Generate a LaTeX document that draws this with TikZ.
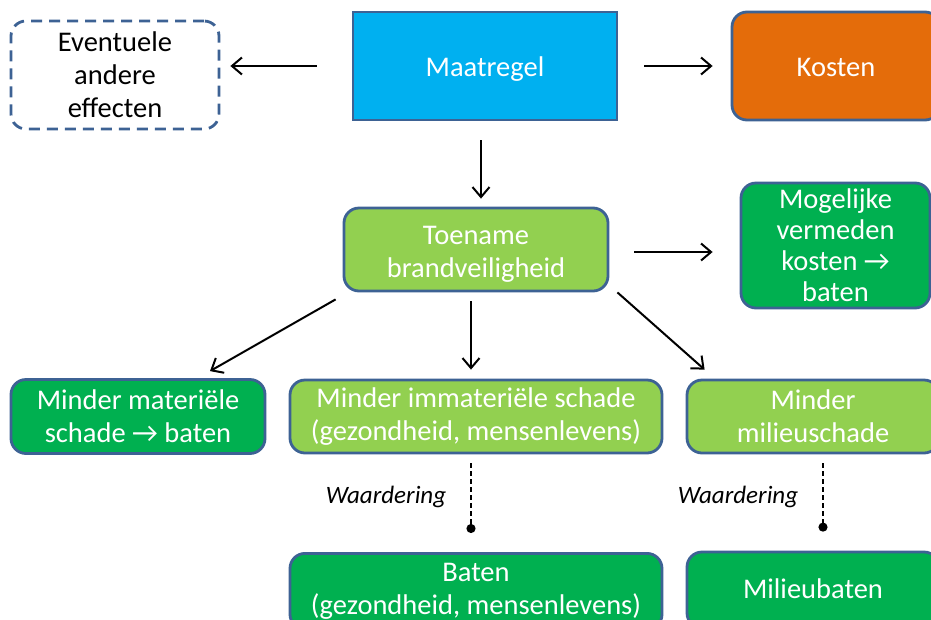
\documentclass[tikz,border=0pt]{standalone}
\usepackage{fontspec}
\setmainfont{Carlito}
\usetikzlibrary{arrows.meta}
\definecolor{bord}{HTML}{3D6294}
\definecolor{cblue}{HTML}{00B0F0}
\definecolor{corange}{HTML}{E46C0A}
\definecolor{clgreen}{HTML}{92D050}
\definecolor{cgreen}{HTML}{00B050}
\newcommand{\lowtext}[2]{\raisebox{-#1pt}[0pt][0pt]{#2}}
\tikzset{
  box/.style={draw=bord, line width=2.8pt, text=white, align=center, inner sep=0pt,
    font=\fontsize{28.5}{33}\selectfont},
  rbox/.style={box, rounded corners=15pt},
  conn/.style={line width=2pt, -{Straight Barb[length=10pt,width=17pt,line width=2pt]}},
  dotconn/.style={line width=2pt, dash pattern=on 5pt off 3pt, -{Circle[length=9pt]}},
  lbl/.style={font=\fontsize{25}{30}\selectfont\itshape, inner sep=0pt}
}
\begin{document}
\begin{tikzpicture}[x=1pt,y=-1pt]
\useasboundingbox (0,0) rectangle (931,619);
\clip (0,0) rectangle (931,619);
\fill[white] (0,0) rectangle (931,619);

\node[rbox, dash pattern=on 11pt off 7pt, text=black, fill=white, minimum width=208pt, minimum height=108pt] (eff) at (115,75) {Eventuele\\andere\\effecten};
\node[box, fill=cblue, minimum width=264pt, minimum height=108pt] (maat) at (485,66) {\lowtext{10}{Maatregel}};
\node[rbox, fill=corange, minimum width=208pt, minimum height=108pt] (kost) at (836,66) {\lowtext{10}{Kosten}};
\node[rbox, fill=clgreen, minimum width=264pt, minimum height=83pt] (toen) at (476,249.5) {\rule{0pt}{27pt}Toename\\brandveiligheid};
\node[rbox, fill=cgreen, minimum width=189pt, minimum height=125pt, font=\fontsize{28.5}{31}\selectfont] (mog) at (835.5,245.5) {Mogelijke\\vermeden\\kosten \symbol{"2192}\\baten};
\node[rbox, fill=cgreen, minimum width=254pt, minimum height=74pt] (mat) at (138,416.5) {Minder materiële\\schade \symbol{"2192} baten};
\node[rbox, fill=clgreen, minimum width=372pt, minimum height=73pt] (imm) at (476,416.5) {Minder immateriële schade\\(gezondheid, mensenlevens)};
\node[rbox, fill=clgreen, minimum width=252pt, minimum height=73pt] (mil) at (813,416.5) {Minder\\milieuschade};
\node[rbox, fill=cgreen, minimum width=372pt, minimum height=76pt, anchor=north] (bat) at (476,552) {Baten\\(gezondheid, mensenlevens)};
\node[rbox, fill=cgreen, minimum width=252pt, minimum height=76pt] (milb) at (813,590) {\lowtext{8}{Milieubaten}};

\node[lbl] (w1) at (386,497) {Waardering};
\node[lbl] (w2) at (738,497) {Waardering};

\draw[conn, shorten <=35pt, shorten >=10pt] (maat.west) -- (maat.west -| eff.east);
\draw[conn, shorten <=26pt, shorten >=18pt] (maat.east) -- (maat.east -| kost.west);
\draw[conn] ([shift={(-4,19)}]maat.south) -- ([shift={(5,-8)}]toen.north);
\draw[conn, shorten <=25pt, shorten >=27pt] ([yshift=-2.5]toen.east) -- ([yshift=-2.5]toen.east -| mog.west);
\draw[conn] ([shift={(-7,7)}]toen.south west) -- ([shift={(72,-7)}]mat.north);
\draw[conn] ([shift={(-5,9)}]toen.south) -- ([shift={(-5,-9)}]imm.north);
\draw[conn] ([shift={(8,0)}]toen.south east) -- ([shift={(19,-9)}]mil.north west);
\draw[dotconn] ([shift={(-5,9)}]imm.south) -- ([shift={(-5,-19)}]bat.north);
\draw[dotconn] ([shift={(10,9)}]mil.south) -- ([shift={(10,-19)}]milb.north);
\end{tikzpicture}
\end{document}
